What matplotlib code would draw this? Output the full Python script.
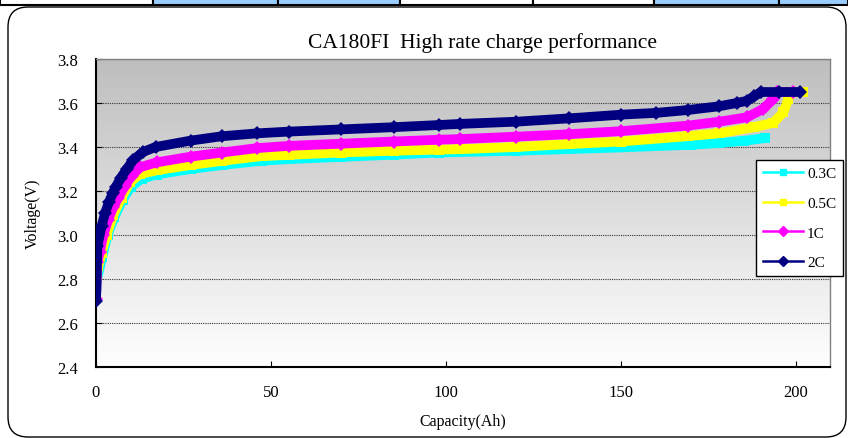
import matplotlib
matplotlib.use("Agg")
import matplotlib.pyplot as plt
import numpy as np
from matplotlib.patches import FancyBboxPatch, Rectangle
from matplotlib.lines import Line2D

plt.rcParams['font.family'] = ['Liberation Serif', 'DejaVu Serif']

# data
x_03c = [0, 0.3, 1.8, 3.3, 5.2, 7.6, 10, 13, 17.3, 27, 36, 47, 55, 70, 85, 98,
         120, 150, 170, 178, 185, 191]
v_03c = [2.72, 2.80, 2.90, 3.00, 3.08, 3.16, 3.22, 3.255, 3.275, 3.30, 3.318,
         3.337, 3.345, 3.355, 3.365, 3.375, 3.383, 3.398, 3.41, 3.418, 3.428, 3.44]

x_05c = [0, 0.2, 0.7, 1.6, 3.0, 4.9, 7.3, 9.7, 12.6, 17.3, 27, 36, 47, 55, 70,
         85, 98, 104, 120, 135, 150, 169, 178, 188, 193.5, 196.4, 197.8, 198.5, 202]
v_05c = [2.72, 2.82, 2.86, 2.92, 3.00, 3.09, 3.17, 3.24, 3.277, 3.294, 3.318,
         3.337, 3.358, 3.364, 3.375, 3.383, 3.388, 3.39, 3.40, 3.413, 3.425,
         3.449, 3.462, 3.49, 3.51, 3.558, 3.618, 3.65, 3.65]

x_1c = [0, 0.4, 1.1, 2.1, 3.5, 4.9, 6.4, 8.3, 10.2, 12.6, 17.3, 27, 36, 46, 55,
        70, 85, 98, 104, 120, 135, 150, 169, 178, 186, 190.6, 193.5, 194.5, 199]
v_1c = [2.71, 2.876, 2.924, 3.00, 3.07, 3.126, 3.17, 3.224, 3.27, 3.308, 3.33,
        3.356, 3.375, 3.395, 3.405, 3.415, 3.425, 3.433, 3.436, 3.447, 3.458,
        3.472, 3.497, 3.515, 3.535, 3.573, 3.618, 3.65, 3.65]

x_2c = [0, 0.4, 1.6, 2.6, 3.7, 4.8, 5.7, 7.1, 8.8, 10.6, 13.4, 17, 27, 36, 46,
        55, 70, 85, 98, 104, 120, 135, 150, 160, 169, 178, 183, 186, 188, 190,
        195, 201]
v_2c = [2.70, 2.95, 3.04, 3.10, 3.15, 3.19, 3.22, 3.26, 3.30, 3.34, 3.377, 3.40,
        3.429, 3.449, 3.462, 3.47, 3.48, 3.49, 3.50, 3.505, 3.515, 3.53, 3.547,
        3.555, 3.568, 3.585, 3.60, 3.61, 3.63, 3.65, 3.65, 3.65]

labels = ['0.3C', '0.5C', '1C', '2C']
colors = ['#00FFFF', '#FFFF00', '#FF00FF', '#000080']
markers = ['s', 's', 'D', 'D']
series = [(x_03c, v_03c), (x_05c, v_05c), (x_1c, v_1c), (x_2c, v_2c)]

fig = plt.figure(figsize=(8.48, 4.39), dpi=100)

# rounded outer frame
frame = FancyBboxPatch((0.08, 0.01), 8.38, 4.30,
                       boxstyle="round,pad=0,rounding_size=0.2",
                       transform=fig.dpi_scale_trans, facecolor='white',
                       edgecolor='black', linewidth=1.0, zorder=-10)
fig.patches.append(frame)

# table strip at the very top
cell_edges = [0, 153, 278, 400, 533, 654, 779, 848]
cell_fill = ['white', '#99CCFF', '#99CCFF', 'white', 'white', '#99CCFF', '#99CCFF']
for i in range(len(cell_fill)):
    r = Rectangle((cell_edges[i] / 100, 4.33), (cell_edges[i + 1] - cell_edges[i]) / 100, 0.08,
                  transform=fig.dpi_scale_trans, facecolor=cell_fill[i],
                  edgecolor='black', linewidth=1.5, zorder=-10)
    fig.patches.append(r)

ax = fig.add_axes([96 / 848, 1 - 368 / 439, (830 - 96) / 848, (368 - 60) / 439])

# gray gradient background
grad = np.linspace(0, 1, 256).reshape(-1, 1)
ax.imshow(grad, cmap=matplotlib.colors.LinearSegmentedColormap.from_list(
    'bg', ['#BEBEBE', '#FFFFFF']), aspect='auto', extent=[0, 1, 0, 1],
    transform=ax.transAxes, zorder=0, origin='upper')

for (xs, vs), lab, c, m in zip(series, labels, colors, markers):
    ax.plot(xs, vs, color=c, linewidth=7, marker=m,
            markersize=7 if m == 's' else 7.5,
            markeredgewidth=0, solid_capstyle='butt', zorder=3)

ax.set_xlim(0, 209.7)
ax.set_ylim(2.4, 3.8)
ax.set_xticks([0, 50, 100, 150, 200])
ax.set_yticks(np.arange(2.4, 3.81, 0.2))
ax.set_yticklabels(['2.4', '2.6', '2.8', '3.0', '3.2', '3.4', '3.6', '3.8'])
ax.tick_params(direction='in', length=4, width=0.8, labelsize=12, pad=13)
ax.tick_params(axis='x', pad=12)
ax.grid(axis='y', color='#333333', linestyle=(0, (1, 1)), linewidth=0.8, zorder=1)
ax.set_axisbelow(True)

for s in ['left', 'bottom']:
    ax.spines[s].set_color('black')
    ax.spines[s].set_linewidth(1.5)
for s in ['top', 'right']:
    ax.spines[s].set_color('#808080')
    ax.spines[s].set_linewidth(1.0)

fig.text(482 / 848, 1 - 43 / 439, 'CA180FI  High rate charge performance',
         ha='center', va='center', fontsize=15.5)
fig.text(463 / 848, 1 - 422 / 439, 'Capacity(Ah)', ha='center', va='center', fontsize=11.5)
fig.text(33 / 848, 1 - 214 / 439, 'Voltage(V)', ha='center', va='center',
         fontsize=11.5, rotation=90)

handles = [Line2D([], [], color=c, marker=m, markersize=5, linewidth=1.8)
           for c, m in zip(colors, markers)]
leg = fig.legend(handles, labels, loc='center', bbox_to_anchor=(799.5 / 848, 1 - 219 / 439),
                 frameon=True, fancybox=False, edgecolor='black', framealpha=1,
                 fontsize=11, handlelength=2.6, labelspacing=1.05, handletextpad=0.3,
                 borderpad=0.45, borderaxespad=0)
leg.get_frame().set_linewidth(1.0)

fig.savefig('out.png', dpi=100)
